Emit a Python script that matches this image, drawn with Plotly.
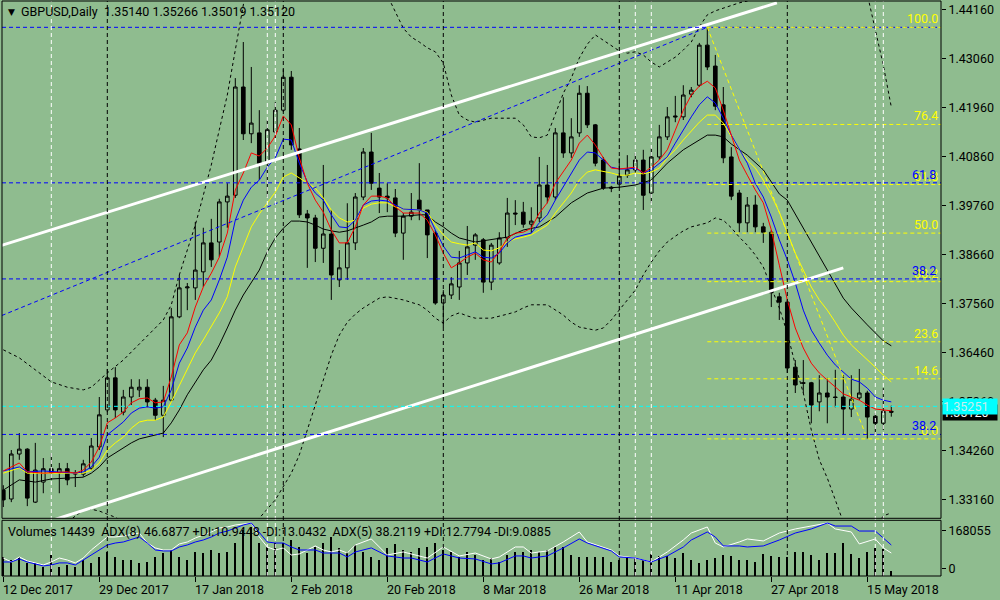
import plotly.graph_objects as go

BG = "#8FBC8F"
FONT = "Roboto"

# ---- data ----------------------------------------------------------------
bar_idx = list(range(112))

date_idx = [0, 12, 24, 36, 48, 60, 72, 84, 96, 108]
date_labels = ["12 Dec 2017", "29 Dec 2017", "17 Jan 2018", "2 Feb 2018", "20 Feb 2018",
               "8 Mar 2018", "26 Mar 2018", "11 Apr 2018", "27 Apr 2018", "15 May 2018"]

price_ticks = [1.33160, 1.34260, 1.35360, 1.36460, 1.37560, 1.38660,
               1.39760, 1.40860, 1.41960, 1.43060, 1.44160]

open_ = [
    1.3337, 1.3317, 1.3418, 1.3429, 1.3310, 1.3355, 1.3385, 1.3376, 1.3385, 1.3373,
    1.3373, 1.3386, 1.3434, 1.3517, 1.3589, 1.3512, 1.3546, 1.3562, 1.3568, 1.3539,
    1.3505, 1.3539, 1.3726, 1.3791, 1.3791, 1.3827, 1.3892, 1.3894, 1.3984, 1.3999,
    1.4242, 1.4137, 1.4139, 1.4071, 1.4141, 1.4190, 1.4264, 1.4103, 1.3957, 1.3948,
    1.3880, 1.3912, 1.3809, 1.3836, 1.3892, 1.3995, 1.4096, 1.4015, 1.3997, 1.3993,
    1.3914, 1.3952, 1.3988, 1.3966, 1.3914, 1.3757, 1.3775, 1.3793, 1.3847, 1.3887,
    1.3899, 1.3804, 1.3847, 1.3903, 1.3959, 1.3961, 1.3934, 1.3948, 1.4022, 1.3995,
    1.4139, 1.4094, 1.4139, 1.4228, 1.4157, 1.4078, 1.4017, 1.4024, 1.4044, 1.4056,
    1.4078, 1.4004, 1.4085, 1.4130, 1.4177, 1.4175, 1.4226, 1.4246, 1.4336, 1.4289,
    1.4202, 1.4085, 1.4004, 1.3937, 1.3977, 1.3928, 1.3916, 1.3771, 1.3759, 1.3613,
    1.3578, 1.3578, 1.3535, 1.3555, 1.3546, 1.3546, 1.3519, 1.3544, 1.3555, 1.3503,
    1.3487, 1.35140]
high = [
    1.3348, 1.3427, 1.3465, 1.3431, 1.3443, 1.3409, 1.3420, 1.3398, 1.3398, 1.3382,
    1.3405, 1.3454, 1.3546, 1.3609, 1.3613, 1.3562, 1.3586, 1.3586, 1.3586, 1.3544,
    1.3571, 1.3746, 1.3820, 1.3802, 1.3939, 1.3926, 1.3946, 1.3991, 1.4026, 1.4262,
    1.4343, 1.4287, 1.4190, 1.4168, 1.4208, 1.4282, 1.4278, 1.4150, 1.3966, 1.3955,
    1.4067, 1.3966, 1.3876, 1.3981, 1.4004, 1.4105, 1.4139, 1.4049, 1.4026, 1.4013,
    1.3959, 1.4004, 1.4071, 1.3966, 1.3921, 1.3786, 1.3815, 1.3874, 1.3930, 1.3914,
    1.3903, 1.3892, 1.3916, 1.3993, 1.3988, 1.3984, 1.3972, 1.4085, 1.4067, 1.4150,
    1.4219, 1.4172, 1.4246, 1.4244, 1.4159, 1.4085, 1.4020, 1.4082, 1.4089, 1.4094,
    1.4101, 1.4105, 1.4157, 1.4197, 1.4222, 1.4246, 1.4242, 1.4341, 1.4376, 1.4314,
    1.4242, 1.4107, 1.4011, 1.3995, 1.3999, 1.3937, 1.3921, 1.3780, 1.3764, 1.3629,
    1.3629, 1.3580, 1.3595, 1.3589, 1.3607, 1.3595, 1.3595, 1.3609, 1.3560, 1.3510,
    1.3566, 1.35266]
low = [
    1.3299, 1.3310, 1.3405, 1.3301, 1.3308, 1.3330, 1.3360, 1.3330, 1.3348, 1.3344,
    1.3367, 1.3382, 1.3427, 1.3512, 1.3499, 1.3505, 1.3528, 1.3546, 1.3523, 1.3494,
    1.3456, 1.3535, 1.3723, 1.3741, 1.3764, 1.3793, 1.3838, 1.3860, 1.3926, 1.3993,
    1.4123, 1.4116, 1.4033, 1.3995, 1.4127, 1.4186, 1.4101, 1.3948, 1.3836, 1.3849,
    1.3847, 1.3764, 1.3793, 1.3809, 1.3876, 1.3988, 1.4011, 1.3959, 1.3961, 1.3905,
    1.3854, 1.3943, 1.3943, 1.3858, 1.3753, 1.3703, 1.3766, 1.3764, 1.3820, 1.3854,
    1.3780, 1.3786, 1.3843, 1.3883, 1.3932, 1.3926, 1.3914, 1.3939, 1.3981, 1.3988,
    1.4083, 1.4083, 1.4130, 1.4150, 1.4064, 1.4011, 1.4006, 1.4015, 1.4038, 1.4049,
    1.3966, 1.3981, 1.4078, 1.4123, 1.4163, 1.4168, 1.4219, 1.4242, 1.4280, 1.4190,
    1.4071, 1.3988, 1.3916, 1.3916, 1.3916, 1.3892, 1.3748, 1.3719, 1.3600, 1.3555,
    1.3555, 1.3487, 1.3514, 1.3487, 1.3523, 1.3461, 1.3501, 1.3539, 1.3452, 1.3461,
    1.3472, 1.35019]
close = [
    1.3315, 1.3418, 1.3429, 1.3319, 1.3382, 1.3385, 1.3376, 1.3385, 1.3360, 1.3376,
    1.3396, 1.3436, 1.3506, 1.3589, 1.3517, 1.3546, 1.3568, 1.3568, 1.3535, 1.3505,
    1.3539, 1.3726, 1.3791, 1.3793, 1.3831, 1.3892, 1.3854, 1.3984, 1.3997, 1.4242,
    1.4137, 1.4161, 1.4071, 1.4146, 1.4190, 1.4264, 1.4112, 1.3955, 1.3948, 1.3880,
    1.3912, 1.3820, 1.3836, 1.3892, 1.3995, 1.4096, 1.4026, 1.3995, 1.3993, 1.3914,
    1.3952, 1.3961, 1.3966, 1.3910, 1.3757, 1.3775, 1.3800, 1.3847, 1.3883, 1.3910,
    1.3804, 1.3887, 1.3903, 1.3959, 1.3957, 1.3934, 1.3941, 1.4022, 1.3995, 1.4139,
    1.4094, 1.4130, 1.4228, 1.4157, 1.4071, 1.4015, 1.4015, 1.4042, 1.4056, 1.4078,
    1.3999, 1.4085, 1.4130, 1.4175, 1.4175, 1.4224, 1.4235, 1.4336, 1.4287, 1.4199,
    1.4083, 1.3997, 1.3937, 1.3977, 1.3928, 1.3916, 1.3780, 1.3759, 1.3611, 1.3573,
    1.3577, 1.3528, 1.3555, 1.3546, 1.3545, 1.3519, 1.3541, 1.3555, 1.3501, 1.3487,
    1.3514, 1.35120]

# moving averages / bands, None where not read
ma_red = [
    1.3380, None, 1.3398, 1.3378, None, 1.3375, None, None, 1.3378, 1.3375,
    1.3382, 1.3400, 1.3434, 1.3488, 1.3499, 1.3512, 1.3533, 1.3542, 1.3544, 1.3533,
    1.3535, 1.3591, 1.3663, 1.3690, 1.3748, 1.3793, 1.3824, 1.3860, 1.3914, 1.4011,
    1.4049, 1.4094, 1.4087, 1.4105, 1.4132, 1.4177, 1.4157, 1.4083, 1.4026, 1.3988,
    1.3961, 1.3921, 1.3892, 1.3892, 1.3928, 1.3977, 1.3997, 1.3997, 1.3993, 1.3973,
    1.3959, None, 1.3959, 1.3943, 1.3910, 1.3869, 1.3836, 1.3847, 1.3860, 1.3869,
    1.3854, 1.3849, 1.3872, 1.3903, 1.3914, 1.3916, 1.3925, 1.3959, 1.3982, 1.4026,
    1.4051, 1.4078, 1.4116, 1.4134, 1.4112, 1.4083, 1.4060, 1.4058, 1.4060, 1.4062,
    1.4049, 1.4062, 1.4078, 1.4101, 1.4145, 1.4190, 1.4224, 1.4244, 1.4255, 1.4240,
    1.4190, 1.4134, 1.4078, 1.4044, 1.4011, 1.3982, 1.3921, 1.3842, 1.3764, 1.3701,
    1.3656, 1.3622, 1.3600, 1.3584, 1.3568, 1.3553, 1.3546, 1.3539, 1.3528, 1.3519,
    1.3517, 1.3515]
ma_blue = [
    1.3380, None, 1.3389, 1.3378, None, 1.3380, None, None, None, 1.3375,
    1.3378, 1.3389, 1.3411, 1.3461, 1.3476, 1.3490, 1.3510, 1.3521, 1.3524, 1.3521,
    1.3524, 1.3562, 1.3622, 1.3656, 1.3703, 1.3741, 1.3764, 1.3809, 1.3860, 1.3943,
    1.3988, 1.4017, 1.4033, 1.4062, 1.4083, 1.4125, 1.4123, 1.4071, 1.4029, 1.4004,
    1.3988, 1.3955, 1.3928, 1.3926, 1.3943, 1.3977, 1.3986, 1.3988, 1.3986, 1.3977,
    1.3968, None, 1.3966, 1.3959, 1.3921, 1.3885, 1.3860, 1.3858, 1.3865, 1.3872,
    1.3860, 1.3858, 1.3869, 1.3892, 1.3905, 1.3910, 1.3914, 1.3937, 1.3955, 1.3988,
    1.4017, 1.4049, 1.4078, 1.4096, 1.4094, 1.4078, 1.4062, 1.4058, 1.4058, 1.4060,
    1.4049, 1.4056, 1.4071, 1.4085, 1.4116, 1.4146, 1.4175, 1.4202, 1.4220, 1.4206,
    1.4172, 1.4134, 1.4101, 1.4071, 1.4026, 1.3995, 1.3950, 1.3899, 1.3854, 1.3802,
    1.3741, 1.3696, 1.3667, 1.3640, 1.3618, 1.3602, 1.3586, 1.3580, 1.3566, 1.3546,
    1.3539, 1.3535]
ma_yellow = [
    1.3375, None, 1.3387, 1.3375, None, None, None, None, None, 1.3375,
    1.3375, 1.3382, 1.3398, 1.3427, 1.3443, 1.3456, 1.3476, 1.3490, 1.3494, 1.3494,
    1.3501, 1.3535, 1.3571, 1.3607, 1.3645, 1.3674, 1.3703, 1.3735, 1.3771, 1.3838,
    1.3883, 1.3928, 1.3957, 1.3982, 1.4006, 1.4040, 1.4049, 1.4038, 1.4026, 1.4015,
    1.3993, 1.3966, 1.3948, 1.3939, 1.3943, 1.3970, 1.3979, 1.3982, 1.3982, 1.3973,
    1.3968, None, 1.3966, 1.3961, 1.3932, 1.3910, 1.3894, 1.3890, 1.3887, 1.3892,
    1.3876, 1.3874, 1.3881, 1.3894, 1.3901, 1.3905, 1.3910, 1.3921, 1.3932, 1.3959,
    1.3982, 1.4004, 1.4033, 1.4051, 1.4056, 1.4053, 1.4049, 1.4044, 1.4044, 1.4049,
    1.4047, 1.4051, 1.4060, 1.4083, 1.4101, 1.4123, 1.4143, 1.4163, 1.4179, 1.4179,
    1.4161, 1.4130, 1.4101, 1.4078, 1.4060, 1.4033, 1.3999, 1.3961, 1.3916, 1.3869,
    1.3831, 1.3793, 1.3764, 1.3741, 1.3714, 1.3685, 1.3663, 1.3647, 1.3631, 1.3613,
    1.3595, 1.3580]
ma_black = [
    1.3337, None, 1.3360, None, 1.3355, None, 1.3362, None, 1.3364, None,
    1.3366, 1.3375, 1.3389, 1.3409, 1.3420, 1.3431, 1.3443, 1.3452, 1.3456, 1.3461,
    1.3465, 1.3488, 1.3517, 1.3551, 1.3580, 1.3607, 1.3629, 1.3663, 1.3701, 1.3741,
    1.3775, 1.3804, 1.3831, 1.3872, 1.3903, 1.3925, 1.3941, 1.3941, 1.3939, 1.3932,
    1.3923, 1.3919, 1.3916, 1.3919, 1.3925, 1.3932, 1.3939, 1.3950, 1.3952, None,
    1.3952, None, 1.3955, 1.3955, 1.3939, 1.3928, 1.3914, 1.3903, None, 1.3894,
    None, 1.3899, None, 1.3905, None, 1.3921, None, 1.3928, None, 1.3950,
    None, 1.3982, None, 1.4004, None, 1.4015, None, 1.4017, None, 1.4022,
    None, 1.4033, None, 1.4071, None, 1.4101, None, 1.4123, 1.4134, 1.4134,
    1.4130, 1.4114, 1.4101, 1.4089, None, 1.4056, None, 1.4002, 1.3988, None,
    1.3926, 1.3896, None, 1.3831, None, 1.3768, 1.3746, None, 1.3708, None,
    1.3672, 1.3661]
bb_upper = [
    1.3652, None, 1.3634, None, 1.3607, None, 1.3580, None, 1.3568, None,
    1.3562, 1.3568, None, 1.3600, None, 1.3629, 1.3647, None, 1.3685, None,
    1.3719, 1.3753, 1.3820, 1.3876, 1.3932, 1.3999, 1.4067, 1.4146, 1.4224, 1.4325,
    1.4426, 1.4527, None, None, 1.4580, None, None, None, 1.4600, None,
    None, None, 1.4580, None, None, None, 1.4520, None, 1.4448, 1.4410,
    1.4374, 1.4354, 1.4343, 1.4330, 1.4321, 1.4296, 1.4224, 1.4179, 1.4168, 1.4163,
    None, 1.4172, None, None, 1.4172, 1.4157, 1.4130, 1.4128, 1.4134, 1.4179,
    1.4228, 1.4262, 1.4307, 1.4338, 1.4359, 1.4347, 1.4334, 1.4323, 1.4318, 1.4321,
    1.4314, 1.4298, 1.4287, 1.4298, 1.4309, 1.4325, 1.4343, 1.4377, 1.4404, 1.4413,
    1.4419, 1.4426, 1.4431, 1.4435, 1.4449, None, None, 1.4500, None, None,
    1.4540, None, None, None, 1.4520, None, None, 1.4470, 1.4450, 1.4374,
    1.4291, 1.4197]
bb_lower = [
    1.3236, None, None, None, 1.3247, None, None, None, 1.3265, None,
    1.3292, 1.3294, 1.3290, 1.3283, 1.3276, 1.3265, None, 1.3236, None, None,
    1.3180, None, None, None, None, 1.3135, None, None, 1.3158, None,
    1.3203, 1.3236, 1.3274, None, 1.3315, None, 1.3375, 1.3416, 1.3472, 1.3528,
    1.3584, 1.3640, 1.3685, 1.3714, 1.3732, 1.3746, None, 1.3768, 1.3771, None,
    1.3764, None, 1.3753, 1.3741, 1.3723, 1.3712, 1.3728, 1.3735, 1.3728, 1.3723,
    None, 1.3723, None, 1.3732, 1.3737, 1.3746, 1.3753, None, 1.3753, 1.3741,
    1.3730, 1.3714, 1.3703, None, 1.3696, 1.3701, 1.3719, 1.3741, 1.3764, 1.3786,
    1.3820, 1.3849, 1.3874, 1.3894, 1.3907, 1.3919, 1.3928, 1.3932, 1.3937, 1.3948,
    1.3943, 1.3926, 1.3905, 1.3887, 1.3865, 1.3838, 1.3791, 1.3746, 1.3690, 1.3618,
    1.3555, 1.3472, 1.3405, 1.3364, 1.3315, 1.3265, 1.3225, 1.3207, 1.3225, 1.3252,
    1.3279, 1.3286]

volume = [
    56900, 47800, 56900, 38700, 38700, 26500, 63000, 26500, 32600, 26500,
    47800, 38700, 56900, 72100, 56900, 47800, 47800, 38700, 41700, 56900,
    69100, 78200, 56900, 47800, 72100, 69100, 78200, 69100, 72100, 99500,
    139100, 148200, 99500, 87400, 99500, 99500, 108700, 87400, 69100, 87400,
    99500, 117800, 84300, 72100, 93500, 72100, 56900, 47800, 84300, 96500,
    78200, 72100, 84300, 87400, 99500, 78200, 72100, 56900, 72100, 63000,
    47800, 53900, 41700, 63000, 72100, 72100, 78200, 72100, 78200, 87400,
    87400, 63000, 56900, 56900, 56900, 56900, 41700, 47800, 53900, 53900,
    47800, 66100, 60000, 60000, 53900, 69100, 47800, 38700, 47800, 53900,
    63000, 60000, 47800, 47800, 41700, 66100, 60000, 56900, 56900, 72100,
    72100, 63000, 47800, 69100, 69100, 99500, 66100, 53900, 72100, 84300,
    81300, 14439]
adx5 = [
    32.9, 28.7, 34.0, 29.8, None, 25.5, 28.7, 32.9, 30.8, 27.7,
    32.9, 41.4, 48.8, 55.2, 55.2, 56.2, None, 59.4, 48.8, 43.6,
    41.4, 41.4, 47.8, 49.9, 54.1, 57.3, 60.5, 64.7, 65.8, 67.9,
    69.0, 70.0, 55.2, 44.6, 41.4, 43.6, 36.1, 37.2, 41.4, 45.7,
    41.4, 39.3, 41.4, 38.2, 46.7, None, 53.1, 44.6, 36.1, None,
    39.3, 37.2, None, 32.9, None, 44.6, None, 35.1, None, 38.2,
    None, 31.9, 34.0, None, 44.6, 44.6, 38.2, None, 40.4, None,
    49.9, None, 60.5, 49.9, None, None, 41.4, 35.1, None, 32.9,
    None, 28.7, None, 39.3, None, 52.0, 59.4, None, 65.8, 48.8,
    44.6, None, 49.9, 53.1, None, 51.0, None, 59.4, None, 63.7,
    None, 66.8, None, 70.0, 63.7, None, 60.5, 47.8, None, 53.1,
    43.6, 38.2119]
adx8 = [
    28.7, 28.7, 31.9, 28.7, None, 24.5, 25.5, 27.7, 27.7, 25.5,
    30.8, 36.1, 41.4, 46.7, 48.8, 49.9, None, 55.2, 48.8, 41.4,
    40.4, 40.4, 44.6, 46.7, 49.9, 52.0, 55.2, 59.4, 61.5, 64.7,
    67.9, 70.0, 60.5, 49.9, 48.8, 48.8, 44.6, 41.4, 41.4, 41.4,
    38.2, 38.2, 38.2, 34.0, 39.3, None, 43.6, 39.3, 35.1, None,
    32.9, 32.9, None, 28.7, None, 37.2, None, 32.9, None, 31.9,
    None, 26.6, 27.7, None, 35.1, 35.1, 32.9, None, 35.1, None,
    43.6, None, 53.1, 48.8, None, None, 40.4, 34.0, None, 32.9,
    None, 28.7, None, 35.1, None, 44.6, 52.0, None, 60.5, 55.2,
    45.7, None, 45.7, 44.6, None, 45.7, None, 52.0, None, 59.4,
    None, 63.7, None, 70.0, 66.8, None, 66.8, 61.5, None, 61.5,
    54.1, 46.6877]

# drawn objects
upper_channel_x = [-1, 96.7]
upper_channel_y = [1.3882, 1.4431]
lower_channel_x = [4, 105]
lower_channel_y = [1.3257, 1.3836]
blue_ray_x = [-1, 88]
blue_ray_y = [1.3723, 1.4376]
fib_anchor_x = [88, 108]
fib_anchor_y = [1.4376, 1.3452]
fib_levels = [0.0, 14.6, 23.6, 38.2, 50.0, 61.8, 76.4, 100.0]
blue_fib_hi, blue_fib_lo = 1.4376, 1.3462
blue_fib_levels = [0.0, 38.2, 61.8, 100.0]
blue_fib_labels = ["38.2", "38.2", "61.8", ""]
hline_cyan = 1.35251
last_price = 1.35120
vline_black = [13, 35, 55, 77, 98]
vline_white = [6, 33, 34, 79, 81, 109, 110]

# ---- geometry -------------------------------------------------------------
PL, PR, PT, PB = 2, 941, 1, 576
X_RANGE = [(PL - 3.3) / 8, (PR - 3.3) / 8]
DASH = "4px,3px"


def px_x(px):
    return (px - PL) / (PR - PL)


def px_y(py):
    return (PB - py) / (PB - PT)


def fib_price(hi, lo, pct):
    return lo + (hi - lo) * pct / 100.0


def build_figure():
    fig = go.Figure()

    # lower window: volumes + ADX
    fig.add_trace(go.Bar(x=bar_idx, y=volume, width=0.14, yaxis="y2",
                         marker=dict(color="black", line=dict(width=0))))
    fig.add_trace(go.Scatter(x=bar_idx, y=adx5, mode="lines", connectgaps=True, yaxis="y3",
                             line=dict(color="white", width=1)))
    fig.add_trace(go.Scatter(x=bar_idx, y=adx8, mode="lines", connectgaps=True, yaxis="y3",
                             line=dict(color="#0000FF", width=1)))

    # main window
    for band in (bb_upper, bb_lower):
        fig.add_trace(go.Scatter(x=bar_idx, y=band, mode="lines", connectgaps=True,
                                 line=dict(color="black", width=1, dash="3px,3px")))
    fig.add_trace(go.Candlestick(
        x=bar_idx, open=open_, high=high, low=low, close=close, whiskerwidth=0,
        increasing=dict(line=dict(color="black", width=1), fillcolor=BG),
        decreasing=dict(line=dict(color="black", width=1), fillcolor="black")))
    for ma, col in ((ma_black, "black"), (ma_yellow, "#FFFF00"),
                    (ma_blue, "#0000FF"), (ma_red, "#FF0000")):
        fig.add_trace(go.Scatter(x=bar_idx, y=ma, mode="lines", connectgaps=True,
                                 line=dict(color=col, width=1)))

    fig.add_trace(go.Scatter(x=blue_ray_x, y=blue_ray_y, mode="lines",
                             line=dict(color="#0000FF", width=1, dash=DASH)))
    fig.add_trace(go.Scatter(x=fib_anchor_x, y=fib_anchor_y, mode="lines",
                             line=dict(color="#FFFF00", width=1, dash=DASH)))
    for xs, ys in ((upper_channel_x, upper_channel_y), (lower_channel_x, lower_channel_y)):
        fig.add_trace(go.Scatter(x=xs, y=ys, mode="lines", line=dict(color="white", width=3)))

    shapes = []
    for lvl in blue_fib_levels:
        shapes.append(dict(type="line", xref="paper", x0=0, x1=1, yref="y",
                           y0=fib_price(blue_fib_hi, blue_fib_lo, lvl),
                           y1=fib_price(blue_fib_hi, blue_fib_lo, lvl),
                           line=dict(color="#0000FF", width=1, dash=DASH)))
    for lvl in fib_levels:
        p = fib_price(fib_anchor_y[0], fib_anchor_y[1], lvl)
        shapes.append(dict(type="line", xref="x", x0=fib_anchor_x[0], x1=X_RANGE[1], yref="y",
                           y0=p, y1=p, line=dict(color="#FFFF00", width=1, dash=DASH)))
    shapes.append(dict(type="line", xref="paper", x0=0, x1=1, yref="y", y0=hline_cyan,
                       y1=hline_cyan, line=dict(color="#00FFFF", width=1, dash=DASH)))
    for xs, col in ((vline_black, "black"), (vline_white, "white")):
        for v in xs:
            shapes.append(dict(type="line", xref="x", x0=v, x1=v, yref="paper", y0=0, y1=1,
                               line=dict(color=col, width=1, dash=DASH)))
    # window frames
    shapes.append(dict(type="rect", xref="paper", x0=0, x1=1, yref="paper",
                       y0=px_y(518.3), y1=1, line=dict(color="black", width=1)))
    shapes.append(dict(type="rect", xref="paper", x0=0, x1=1, yref="paper",
                       y0=0, y1=px_y(520.3), line=dict(color="black", width=1)))

    ann = []
    ann.append(dict(text="▼", xref="paper", yref="paper", x=px_x(11), y=px_y(12),
                    xanchor="center", yanchor="middle", showarrow=False,
                    font=dict(size=9, color="black", family="DejaVu Sans")))
    ann.append(dict(text="GBPUSD,Daily\u00a0\u00a01.35140 1.35266 1.35019 1.35120",
                    xref="paper", yref="paper", x=px_x(19), y=px_y(12), xanchor="left",
                    yanchor="middle", showarrow=False))
    ann.append(dict(text="Volumes 14439\u00a0\u00a0ADX(8) 46.6877 +DI:10.9448 -DI:13.0432"
                         "\u00a0\u00a0ADX(5) 38.2119 +DI:12.7794 -DI:9.0885",
                    xref="paper", yref="paper", x=px_x(6), y=px_y(531), xanchor="left",
                    yanchor="middle", showarrow=False))
    for lvl in fib_levels:
        ann.append(dict(text=f"{lvl:.1f}", xref="paper", x=px_x(939), xanchor="right",
                        yref="y", y=fib_price(fib_anchor_y[0], fib_anchor_y[1], lvl),
                        yanchor="bottom", showarrow=False, borderpad=0,
                        font=dict(color="#FFFF00")))
    for lvl, lab in zip(blue_fib_levels, blue_fib_labels):
        if lab:
            ann.append(dict(text=lab, xref="paper", x=px_x(937), xanchor="right", yref="y",
                            y=fib_price(blue_fib_hi, blue_fib_lo, lvl), yanchor="bottom",
                            showarrow=False, borderpad=0, font=dict(color="#0000FF")))
    for k, lab in zip(date_idx, date_labels):
        ann.append(dict(text=lab, xref="x", x=k, xanchor="left", xshift=-2, yref="paper",
                        y=0, yanchor="top", yshift=-4, showarrow=False))
    ann.append(dict(text=f"{last_price:.5f}", xref="paper", x=px_x(942), xanchor="left",
                    yref="y", y=last_price, yanchor="middle", showarrow=False,
                    bgcolor="black", width=54, align="left", borderpad=0,
                    font=dict(color="white")))
    ann.append(dict(text=f"{hline_cyan:.5f}", xref="paper", x=px_x(942), xanchor="left",
                    yref="y", y=hline_cyan, yanchor="middle", showarrow=False,
                    bgcolor="#00FFFF", width=54, align="left", borderpad=0,
                    font=dict(color="#C8EEEE")))

    fig.update_layout(
        width=1000, height=600,
        margin=dict(l=PL, r=1000 - PR, t=PT, b=600 - PB),
        paper_bgcolor=BG, plot_bgcolor=BG,
        showlegend=False, boxgap=0.35, bargap=0,
        font=dict(family=FONT, size=12.5, color="black"),
        xaxis=dict(range=X_RANGE, anchor="y2", showgrid=False, zeroline=False,
                   showticklabels=False, ticks="outside", ticklen=5, tickcolor="black",
                   tickvals=date_idx, rangeslider=dict(visible=False)),
        yaxis=dict(domain=[px_y(518.3), 1], range=[1.32737, 1.44351], side="right",
                   anchor="x", tickvals=price_ticks,
                   ticktext=[f"{t:.5f}" for t in price_ticks],
                   ticks="outside", ticklen=4, tickcolor="black",
                   showgrid=False, zeroline=False),
        yaxis2=dict(domain=[0, px_y(520.3)], range=[0, 169500], side="right", anchor="x",
                    tickvals=[139100, 23440], ticktext=["168055", "0"],
                    ticks="outside", ticklen=4, tickcolor="black",
                    showgrid=False, zeroline=False),
        yaxis3=dict(overlaying="y2", range=[13.84, 72.88], visible=False, anchor="x"),
        shapes=shapes,
        annotations=ann,
    )
    return fig


if __name__ == "__main__":
    fig = build_figure()
    # the page's default body margin would shift the chart by 8px
    fig.write_html("out.html", config={"displayModeBar": False},
                   post_script="document.body.style.margin='0';")
